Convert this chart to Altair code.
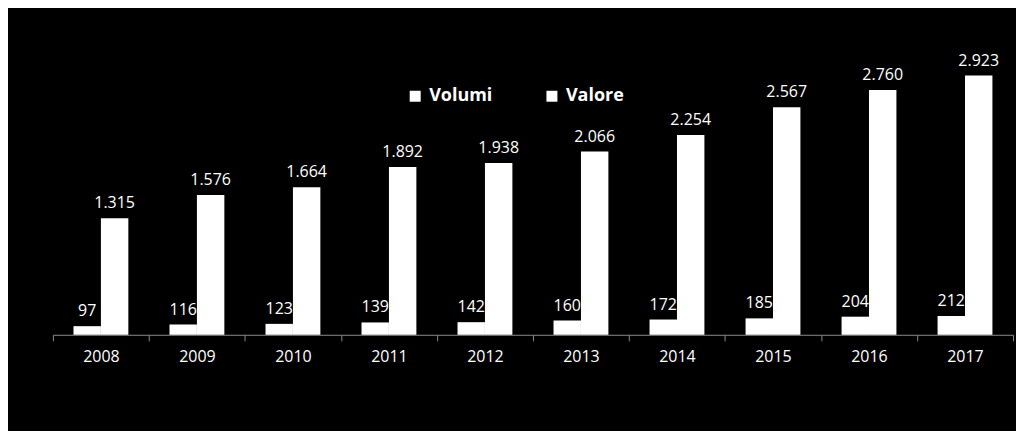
import altair as alt
import pandas as pd

years = ["2008", "2009", "2010", "2011", "2012", "2013", "2014", "2015", "2016", "2017"]
volumi = [97, 116, 123, 139, 142, 160, 172, 185, 204, 212]
valore = [1315, 1576, 1664, 1892, 1938, 2066, 2254, 2567, 2760, 2923]
series = ["Volumi", "Valore"]

rows = []
for i, yr in enumerate(years):
    rows.append({"anno": yr, "serie": "Volumi", "valore": volumi[i]})
    rows.append({"anno": yr, "serie": "Valore", "valore": valore[i]})
df = pd.DataFrame(rows)
df["etichetta"] = df["valore"].map(lambda v: f"{v:,}".replace(",", "."))

x = alt.X(
    "anno:N",
    sort=years,
    scale=alt.Scale(paddingInner=0, paddingOuter=0),
    axis=alt.Axis(
        title=None,
        labelAngle=0,
        tickBand="extent",
        domainColor="#8c8c8c",
        tickColor="#8c8c8c",
        tickSize=6,
        labelColor="white",
        labelFont="Open Sans",
        labelFontSize=16,
        labelPadding=8,
        grid=False,
    ),
)
xo = alt.XOffset("serie:N", sort=series, scale=alt.Scale(paddingInner=0, paddingOuter=0.75))
y = alt.Y("valore:Q", scale=alt.Scale(domain=[0, 3500]), axis=None)

bars = alt.Chart(df).mark_bar().encode(
    x=x,
    xOffset=xo,
    y=y,
    color=alt.Color(
        "serie:N",
        sort=series,
        scale=alt.Scale(domain=series, range=["white", "white"]),
        legend=alt.Legend(
            title=None,
            orient="none",
            legendX=354,
            legendY=63,
            direction="horizontal",
            symbolType="square",
            symbolSize=121,
            symbolStrokeWidth=0,
            labelColor="white",
            labelFont="Open Sans",
            labelFontSize=18,
            labelFontWeight="bold",
            labelOffset=5,
            columnPadding=50,
            padding=0,
        ),
    ),
)

text = alt.Chart(df).mark_text(
    dy=-10, baseline="alphabetic", align="center", color="white", font="Open Sans", fontSize=16
).encode(x=x, xOffset=xo, y=y, text="etichetta:N")

chart = (
    alt.layer(bars, text)
    .properties(width=962, height=311, padding={"left": 44, "top": 16, "right": 2, "bottom": 66})
    .configure(background="black")
    .configure_view(stroke=None)
)

chart.save("out.html", embed_options={"renderer": "svg", "actions": False})
